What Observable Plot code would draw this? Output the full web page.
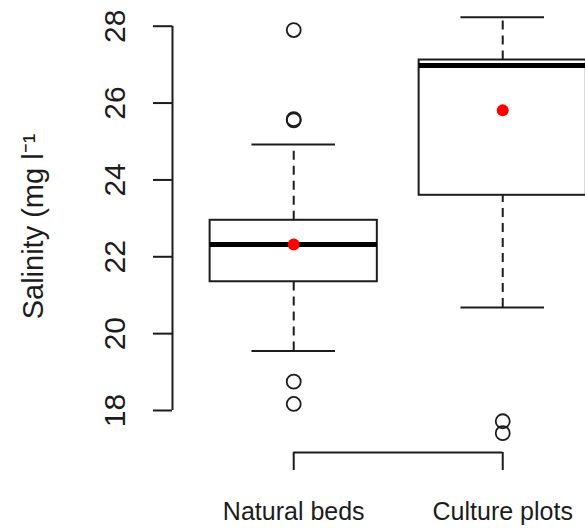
<!DOCTYPE html>
<html><head><meta charset="utf-8">
<script src="https://cdn.jsdelivr.net/npm/d3@7"></script>
<script src="https://cdn.jsdelivr.net/npm/@observablehq/plot@0.6"></script>
<style>body{margin:0;background:#fff} svg{display:block}</style>
</head><body><div id="chart"></div>
<script>
const categories = ["Natural beds", "Culture plots"];
const positions = [1, 2];
const q1 = [21.35, 23.6];
const median = [22.32, 26.98];
const q3 = [22.95, 27.12];
const whiskerLow = [19.55, 20.68];
const whiskerHigh = [24.92, 28.23];
const means = [22.32, 25.81];
const outlierGroup = ["Natural beds", "Natural beds", "Natural beds", "Natural beds", "Natural beds", "Culture plots", "Culture plots"];
const outlierValues = [27.9, 25.55, 25.58, 18.75, 18.17, 17.72, 17.41];
const yTicks = [18, 20, 22, 24, 26, 28];
const yLabel = "Salinity (mg l\u207B\u00B9";

const boxes = categories.map((c, i) => ({
  cat: c, pos: positions[i], q1: q1[i], median: median[i], q3: q3[i],
  lo: whiskerLow[i], hi: whiskerHigh[i], mean: means[i]
}));
const posOf = Object.fromEntries(categories.map((c, i) => [c, positions[i]]));
const outliers = outlierValues.map((v, i) => ({pos: posOf[outlierGroup[i]], value: v}));

const xDomain = [0.42, 2.396];
const yDomain = [16.907, 28.669];
const ink = "#1c1c1c";
const boxHalf = 0.4, capHalf = 0.2;

const chart = Plot.plot({
  width: 585,
  height: 528,
  marginLeft: 172,
  marginRight: 0,
  marginTop: 0,
  marginBottom: 76,
  style: {fontFamily: "'Liberation Sans', Arial, sans-serif", fontSize: "25px", background: "#fff", color: ink},
  x: {type: "linear", domain: xDomain},
  y: {domain: yDomain},
  marks: [
    Plot.ruleX(boxes, {x: "pos", y1: "q3", y2: "hi", stroke: ink, strokeWidth: 2, strokeDasharray: "9,6"}),
    Plot.ruleX(boxes, {x: "pos", y1: "lo", y2: "q1", stroke: ink, strokeWidth: 2, strokeDasharray: "9,6"}),
    Plot.ruleY(boxes, {y: "hi", x1: d => d.pos - capHalf, x2: d => d.pos + capHalf, stroke: ink, strokeWidth: 2}),
    Plot.ruleY(boxes, {y: "lo", x1: d => d.pos - capHalf, x2: d => d.pos + capHalf, stroke: ink, strokeWidth: 2}),
    Plot.rectY(boxes, {x1: d => d.pos - boxHalf, x2: d => d.pos + boxHalf, y1: "q1", y2: "q3", fill: "white", stroke: ink, strokeWidth: 2}),
    Plot.ruleY(boxes, {y: "median", x1: d => d.pos - boxHalf, x2: d => d.pos + boxHalf, stroke: "#000", strokeWidth: 5}),
    Plot.dot(outliers, {x: "pos", y: "value", r: 7, stroke: ink, strokeWidth: 1.8, fill: "none"}),
    Plot.dot(boxes, {x: "pos", y: "mean", r: 6, fill: "#ff0000", stroke: "none"}),
    Plot.ruleX([xDomain[0]], {y1: yTicks[0], y2: yTicks[yTicks.length - 1], stroke: ink, strokeWidth: 2}),
    Plot.axisY({ticks: yTicks, anchor: "left", tickSize: 19, tickRotate: -90, tickPadding: 29, strokeWidth: 2, label: null, fontSize: 30}),
    Plot.ruleY([yDomain[0]], {x1: positions[0], x2: positions[positions.length - 1], stroke: ink, strokeWidth: 2}),
    Plot.axisX({ticks: positions, tickFormat: d => categories[positions.indexOf(d)], anchor: "bottom", tickSize: 18, tickPadding: 32, strokeWidth: 2, label: null, fontSize: 25}),
    Plot.text([yLabel], {frameAnchor: "left", dx: -139, rotate: -90, textAnchor: "middle", fontSize: 29, fill: ink})
  ]
});
document.getElementById("chart").append(chart);
</script>
</body></html>
